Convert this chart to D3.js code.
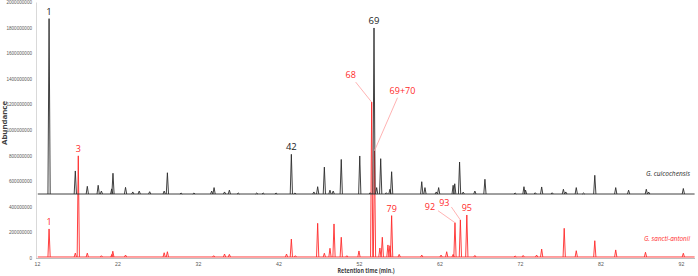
<!DOCTYPE html>
<html><head><meta charset="utf-8">
<script src="https://cdn.jsdelivr.net/npm/d3@7"></script>
<style>html,body{margin:0;padding:0;background:#fff;}svg{display:block;font-family:"Open Sans","Liberation Sans",sans-serif;}</style>
</head><body>
<svg id="c" width="698" height="276"></svg>
<script>
// x tick labels (retention time, min) and y tick values (abundance)
const xTicks = [12, 22, 32, 42, 52, 62, 72, 82, 92];
const yTicks = [0, 200000000, 400000000, 600000000, 800000000, 1000000000, 1200000000, 1400000000, 1600000000, 1800000000, 2000000000];

// G. cuicochensis trace: baseline offset and peaks [retention time, height above baseline]
const cuicoOffset = 500000000;
const cuicoPeaks = [
 [13.5,1370e6],[16.76,180e6],[18.25,60e6],[19.6,68e6],[20.0,23e6],[21.28,40e6],[21.44,162e6],
 [23.0,52e6],[23.9,16e6],[24.7,23e6],[26.0,18e6],[27.8,23e6],[28.2,166e6],[29.9,8e6],[31.5,8e6],
 [33.7,23e6],[34.0,50e6],[35.3,16e6],[35.9,30e6],[37.0,8e6],[39.3,8e6],[40.1,8e6],[41.7,8e6],
 [43.6,310e6],[44.05,8e6],[46.4,16e6],[46.87,57e6],[47.7,210e6],[48.4,30e6],[48.8,23e6],[49.8,270e6],
 [52.1,297e6],[53.4,10e6],[53.87,1297e6],[54.2,50e6],[54.7,276e6],[55.4,10e6],[55.85,37e6],[56.06,174e6],
 [59.8,96e6],[60.2,50e6],[61.6,16e6],[61.9,50e6],[63.7,68e6],[63.9,80e6],[64.5,250e6],[64.95,15e6],
 [66.4,23e6],[67.65,115e6],[71.4,8e6],[72.5,57e6],[72.7,30e6],[73.9,10e6],[74.7,55e6],[76.0,10e6],
 [77.4,37e6],[77.7,16e6],[79.0,50e6],[79.9,8e6],[81.3,146e6],[83.9,50e6],[85.5,30e6],[87.7,37e6],
 [88.0,15e6],[92.3,43e6]
];

// G. sancti-antonii trace
const sanctiOffset = 8000000;
const sanctiPeaks = [
 [13.5,219e6],[16.76,30e6],[17.13,790e6],[18.25,30e6],[20.0,10e6],[21.3,20e6],[21.42,45e6],[23.0,15e6],
 [27.8,33e6],[28.2,41e6],[33.95,10e6],[35.3,23e6],[35.9,20e6],[43.0,23e6],[43.6,140e6],[44.1,10e6],
 [46.87,263e6],[47.7,29e6],[48.4,68e6],[48.9,258e6],[49.8,154e6],[50.5,10e6],[52.0,47e6],
 [53.58,1210e6],[53.93,830e6],[54.6,70e6],[54.9,154e6],[55.6,94e6],[55.85,88e6],[56.06,323e6],
 [57.0,20e6],[59.8,15e6],[62.2,15e6],[62.9,41e6],[63.7,20e6],[63.93,268e6],[64.6,289e6],[65.4,328e6],
 [66.4,12e6],[71.4,8e6],[72.4,12e6],[74.07,15e6],[74.7,62e6],[77.5,224e6],[79.0,49e6],[81.3,127e6],
 [83.9,55e6],[87.6,37e6],[92.3,29e6]
];

// peak labels: [text, retention time]
const cuicoLabels = [["1",13.5],["42",43.6],["69",53.87]];
const sanctiLabels = [["1",13.5],["3",17.13],["79",56.06],["95",65.4]];
const sanctiLeaderLabels = [["68",53.58],["69+70",53.93],["92",63.93],["93",64.6]];
const seriesNames = ["G. cuicochensis","G. sancti-antonii"];

const svg = d3.select("#c");
const x = d3.scaleLinear().domain([12, 93.75]).range([37, 695]);
const y = d3.scaleLinear().domain([0, 2000000000]).range([258, 2]);

// axes
const yAxis = d3.axisLeft(y).tickValues(yTicks).tickSize(0).tickPadding(4).tickFormat(d => String(d));
const gy = svg.append("g").attr("transform","translate(36,0)").call(yAxis);
gy.select(".domain").attr("stroke","#d9d9d9");
gy.selectAll("text").attr("font-size","4.6px").attr("fill","#595959");

const xAxis = d3.axisBottom(x).tickValues(xTicks).tickSize(0).tickPadding(4);
const gx = svg.append("g").attr("transform","translate(0,258)").call(xAxis);
gx.select(".domain").attr("stroke","#bfbfbf").attr("d","M36,0.5H695");
gx.selectAll("text").attr("font-size","5.2px").attr("fill","#595959");

svg.append("text").attr("x",366).attr("y",273).attr("text-anchor","middle")
  .attr("font-size","7px").attr("font-weight","bold").attr("fill","#404040")
  .attr("textLength",57).attr("lengthAdjust","spacingAndGlyphs").text("Retention time (min.)");
svg.append("text").attr("transform","translate(7,123) rotate(-90)").attr("text-anchor","middle")
  .attr("font-size","6.5px").attr("font-weight","bold").attr("fill","#404040")
  .attr("textLength",44).attr("lengthAdjust","spacingAndGlyphs").text("Abundance");

const w = 0.14;
const line = d3.line().x(d => x(d[0])).y(d => y(d[1]));
function trace(peaks, offset, color, sw){
  const g = svg.append("g");
  g.append("path").attr("d", line([[12.1, offset],[93.7, offset]]))
    .attr("stroke", color).attr("stroke-width", sw).attr("fill","none");
  g.selectAll("path.pk").data(peaks).join("path").attr("class","pk")
    .attr("d", p => line([[p[0]-w, offset],[p[0], offset + p[1]],[p[0]+w, offset]]))
    .attr("stroke", color).attr("stroke-width", sw).attr("fill","none").attr("stroke-linejoin","miter");
}
trace(sanctiPeaks, sanctiOffset, "#ff2a2a", 0.9);
trace(cuicoPeaks, cuicoOffset, "#2b2b2b", 0.9);

const peakTop = (peaks, offset, t) => { const p = peaks.find(q => q[0] === t); return offset + p[1]; };

svg.append("g").selectAll("text").data(cuicoLabels).join("text")
  .attr("x", d => x(d[1])).attr("y", d => y(peakTop(cuicoPeaks, cuicoOffset, d[1])) - 4)
  .attr("text-anchor","middle").attr("font-size","9.5px").attr("fill","#222").text(d => d[0]);

svg.append("g").selectAll("text").data(sanctiLabels).join("text")
  .attr("x", d => x(d[1])).attr("y", d => y(peakTop(sanctiPeaks, sanctiOffset, d[1])) - 4)
  .attr("text-anchor","middle").attr("font-size","9px").attr("fill","#ff2a2a").text(d => d[0]);

// leader label layout (pixel offsets from peak top)
const leaderLayout = {"68":[-21,-27,-16,-20],"69+70":[28,-60,23,-53],"92":[-25,-16,-17,-12],"93":[-16,-17,-9,-13]};
const lg = svg.append("g");
sanctiLeaderLabels.forEach(d => {
  const px = x(d[1]), py = y(peakTop(sanctiPeaks, sanctiOffset, d[1]));
  const L = leaderLayout[d[0]];
  lg.append("line").attr("x1", px + L[2]).attr("y1", py + L[3]).attr("x2", px).attr("y2", py)
    .attr("stroke","#ffa0a0").attr("stroke-width",0.8);
  lg.append("text").attr("x", px + L[0]).attr("y", py + L[1]).attr("dy","0.35em")
    .attr("text-anchor","middle").attr("font-size","9px").attr("fill","#ff2a2a").text(d[0]);
});

svg.append("text").attr("x",690).attr("y",176).attr("text-anchor","end").attr("font-size","7.5px")
  .attr("font-style","italic").attr("fill","#262626")
  .attr("textLength",44).attr("lengthAdjust","spacingAndGlyphs").text(seriesNames[0]);
svg.append("text").attr("x",690).attr("y",241).attr("text-anchor","end").attr("font-size","7.5px")
  .attr("font-style","italic").attr("fill","#ff2a2a")
  .attr("textLength",46).attr("lengthAdjust","spacingAndGlyphs").text(seriesNames[1]);
</script>
</body></html>
